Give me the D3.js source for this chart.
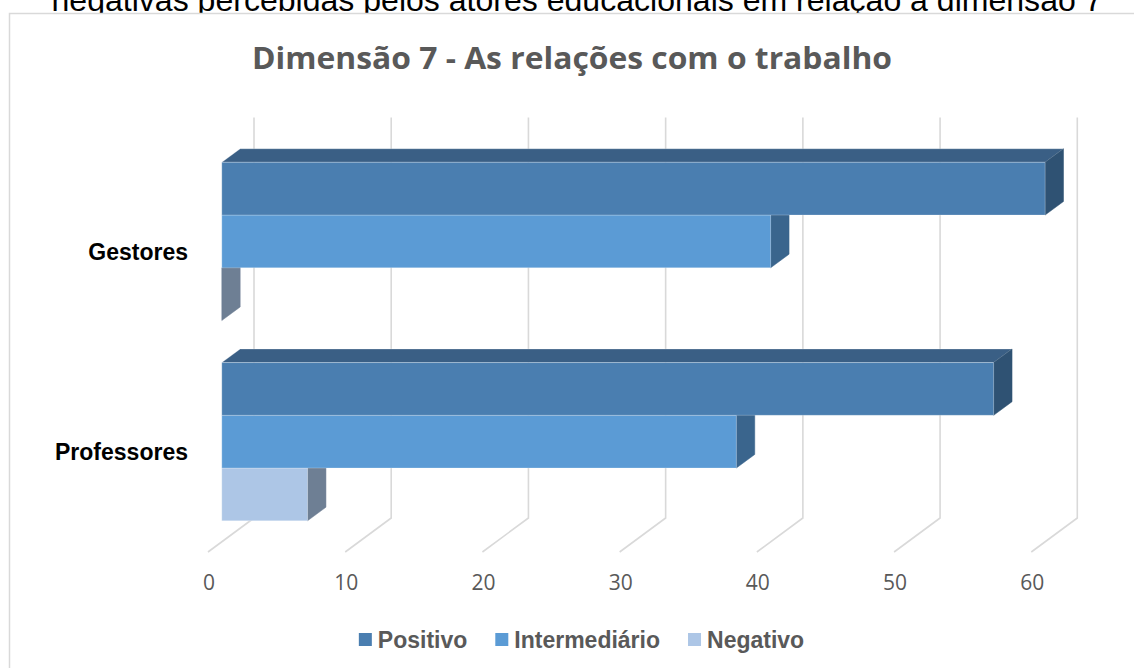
<!DOCTYPE html>
<html>
<head>
<meta charset="utf-8">
<script src="https://cdn.jsdelivr.net/npm/d3@7"></script>
<style>
  body { margin: 0; background: #fff; }
  svg { display: block; }
</style>
</head>
<body>
<div id="chart"></div>
<script>
// data
var categories = ["Gestores", "Professores"];
var seriesNames = ["Positivo", "Intermediário", "Negativo"];
var positivo = [60, 56.25];
var intermediario = [40, 37.5];
var negativo = [0, 6.25];
var xTicks = [0, 10, 20, 30, 40, 50, 60];

var seriesValues = [positivo, intermediario, negativo];

var width = 1134, height = 668;

// colours per series: front, top, side
var colors = {
  "Positivo": {front: "#4a7eb0", top: "#3a5f85", side: "#2f5273"},
  "Intermediário": {front: "#5b9bd5", top: "#3b6996", side: "#3a658d"},
  "Negativo": {front: "#adc6e6", top: "#8ea5c2", side: "#6e7f94"}
};

// 3d geometry: back wall + depth vector towards the viewer
var wall = {top: 117.5, bottom: 518};
var depth = {dx: -46, dy: 34};
var barBack = 0.3, barFront = 0.7;

var svg = d3.select("#chart")
  .append("svg")
  .attr("width", width)
  .attr("height", height);

// caption line of the document, mostly hidden behind the chart box
svg.append("text")
  .attr("x", 577)
  .attr("y", 10.5)
  .attr("text-anchor", "middle")
  .attr("textLength", 1051)
  .attr("lengthAdjust", "spacingAndGlyphs")
  .style("font-family", "'Liberation Sans', Arial, sans-serif")
  .style("font-size", "32px")
  .style("fill", "#000")
  .text("negativas percebidas pelos atores educacionais em relação à dimensão 7");

// chart box
svg.append("rect")
  .attr("x", 9.5)
  .attr("y", 13.5)
  .attr("width", 1140)
  .attr("height", 700)
  .style("fill", "#fff")
  .style("stroke", "#d9d9d9")
  .style("stroke-width", 1.5);

// title
svg.append("text")
  .attr("x", 572)
  .attr("y", 69)
  .attr("text-anchor", "middle")
  .attr("textLength", 640)
  .attr("lengthAdjust", "spacingAndGlyphs")
  .style("font-family", "'Open Sans', sans-serif")
  .style("font-weight", "bold")
  .style("font-size", "31px")
  .style("fill", "#595959")
  .text("Dimensão 7 - As relações com o trabalho");

// scales
var xScale = d3.scaleLinear()
  .domain([0, 60])
  .range([254, 1077.3]);

var yScale = d3.scaleBand()
  .domain(categories)
  .range([wall.top, wall.bottom])
  .paddingInner(0.21)
  .paddingOuter(0.105);

var ySub = d3.scaleBand()
  .domain(seriesNames)
  .range([0, yScale.bandwidth()]);

function proj(x, y, f) {
  return [x + depth.dx * f, y + depth.dy * f];
}

// gridlines: back wall + floor
var grid = svg.append("g").attr("class", "grid");
grid.selectAll("path")
  .data(xTicks)
  .enter()
  .append("path")
  .attr("d", function(d) {
    var x = xScale(d);
    var f = proj(x, wall.bottom, 1);
    return "M" + x + "," + wall.top + "L" + x + "," + wall.bottom + "L" + f[0] + "," + f[1];
  })
  .style("fill", "none")
  .style("stroke", "#d9d9d9")
  .style("stroke-width", 1.6);

// x tick labels on the front edge of the floor
svg.append("g")
  .selectAll("text")
  .data(xTicks)
  .enter()
  .append("text")
  .attr("x", function(d) { return proj(xScale(d), wall.bottom, 1)[0] + 1; })
  .attr("y", 590)
  .attr("text-anchor", "middle")
  .style("font-family", "'Open Sans', sans-serif")
  .style("font-size", "21px")
  .style("fill", "#595959")
  .text(function(d) { return d; });

// category labels
svg.append("g")
  .selectAll("text")
  .data(categories)
  .enter()
  .append("text")
  .attr("x", 188)
  .attr("y", function(d) {
    return yScale(d) + yScale.bandwidth() / 2 + depth.dy + 8.5;
  })
  .attr("text-anchor", "end")
  .style("font-family", "'Liberation Sans', Arial, sans-serif")
  .style("font-weight", "bold")
  .style("font-size", "23px")
  .style("fill", "#000")
  .text(function(d) { return d; });

// bars, bottom series first so upper bars cover hidden faces
var bars = [];
categories.forEach(function(c, ci) {
  for (var si = seriesNames.length - 1; si >= 0; si--) {
    bars.push({cat: c, series: seriesNames[si], value: seriesValues[si][ci]});
  }
});

function pts(list) {
  return list.map(function(p) { return p.join(","); }).join(" ");
}

var barG = svg.append("g")
  .selectAll("g")
  .data(bars)
  .enter()
  .append("g")
  .attr("class", "bar");

barG.each(function(d) {
  var g = d3.select(this);
  var x0 = xScale(0), x1 = xScale(d.value);
  var y0 = yScale(d.cat) + ySub(d.series);
  var y1 = y0 + ySub.bandwidth();
  var c = colors[d.series];

  var fA = proj(x0, y0, barFront), fB = proj(x1, y0, barFront),
    fC = proj(x1, y1, barFront), fD = proj(x0, y1, barFront);
  var bA = proj(x0, y0, barBack), bB = proj(x1, y0, barBack),
    bC = proj(x1, y1, barBack);

  // top
  g.append("polygon")
    .attr("points", pts([fA, fB, bB, bA]))
    .style("fill", c.top)
    .style("stroke", "rgba(255,255,255,0.35)")
    .style("stroke-width", 0.8);
  // right side
  g.append("polygon")
    .attr("points", pts([fB, bB, bC, fC]))
    .style("fill", c.side)
    .style("stroke", c.side)
    .style("stroke-width", 0.5);
  // front
  if (d.value > 0) {
    g.append("polygon")
      .attr("points", pts([fA, fB, fC, fD]))
      .style("fill", c.front)
      .style("stroke", "rgba(255,255,255,0.3)")
      .style("stroke-width", 0.8);
  }
});

// legend
var legend = svg.append("g").attr("class", "legend");
var items = legend.selectAll("g")
  .data(seriesNames)
  .enter()
  .append("g");

items.append("rect")
  .attr("width", 13)
  .attr("height", 13)
  .attr("y", 633)
  .style("fill", function(d) { return colors[d].front; });

items.append("text")
  .attr("y", 647.5)
  .style("font-family", "'Liberation Sans', Arial, sans-serif")
  .style("font-weight", "bold")
  .style("font-size", "23px")
  .style("fill", "#595959")
  .text(function(d) { return d; });

var widths = [];
items.select("text").each(function() { widths.push(this.getComputedTextLength()); });
var total = 0;
widths.forEach(function(w, i) { total += 19 + w + (i < widths.length - 1 ? 28 : 0); });
var lx = 581.5 - total / 2;
items.each(function(d, i) {
  var it = d3.select(this);
  it.select("rect").attr("x", lx);
  it.select("text").attr("x", lx + 19);
  lx += 19 + widths[i] + 28;
});
</script>
</body>
</html>
